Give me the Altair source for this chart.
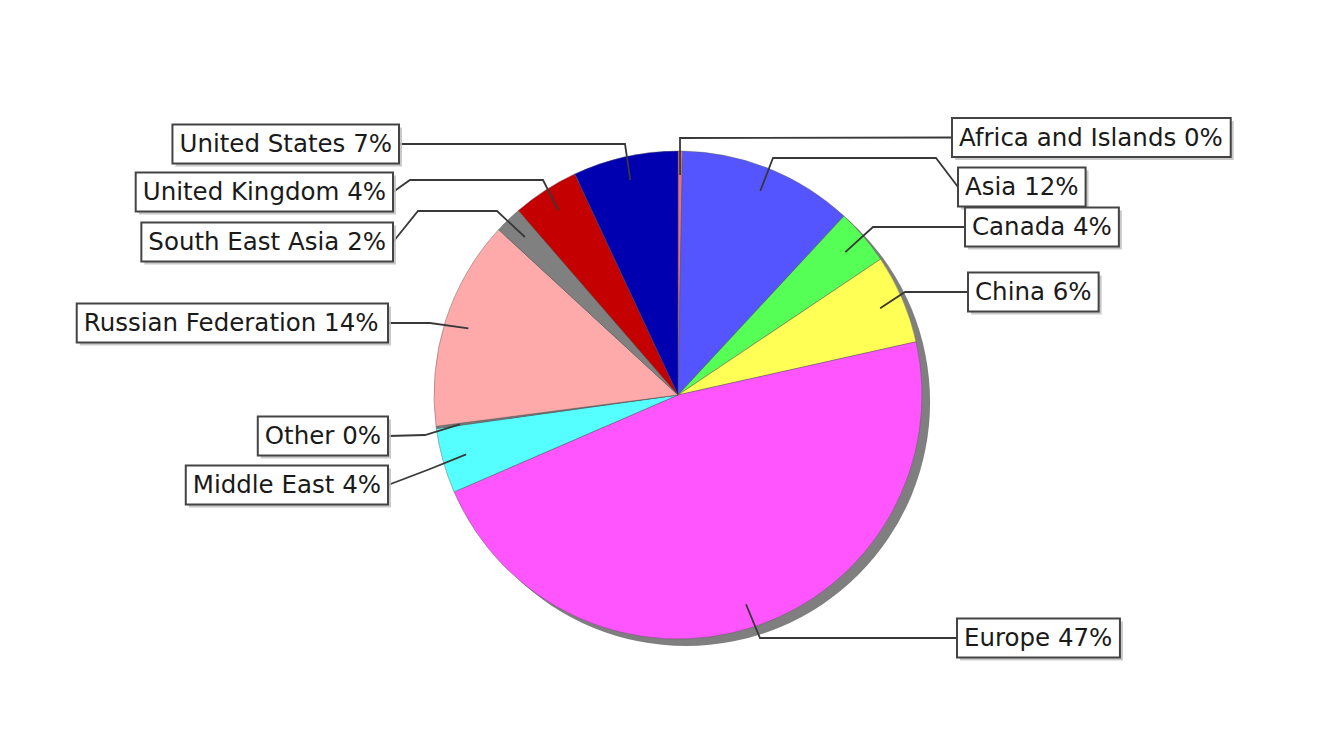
import math
import altair as alt
import pandas as pd

# ---------------- data ----------------
categories = ["Africa and Islands", "Asia", "Canada", "China", "Europe",
              "Middle East", "Other", "Russian Federation", "South East Asia",
              "United Kingdom", "United States"]
shares = [0.3, 11.6, 3.7, 5.9, 47.0, 4.3, 0.15, 13.9, 1.8, 4.4, 6.95]
colors = ["#e0708a", "#5555ff", "#55ff55", "#ffff55", "#ff55ff", "#55ffff",
          "#7a7a7a", "#ffaaaa", "#808080", "#c40000", "#0000b0"]
labels = [f"{c} {round(v)}%" for c, v in zip(categories, shares)]

# ---------------- layout (screen pixels) ----------------
CX, CY, R = 678, 395, 244
SHADOW_DX, SHADOW_DY = 8, 7
LEADER_R = 220
FONT = "DejaVu Sans"
FS = 24.5
PAD_X = 7
BOX_H = 39
# side, box edge x (left edge for right side, right edge for left side), centre y, leader elbows
label_layout = [
    ("right", 952, 137.5, [(680, 138)]),
    ("right", 958, 187, [(773, 158), (936, 158)]),
    ("right", 965, 227, [(873, 227)]),
    ("right", 968, 292, [(905, 292)]),
    ("right", 957, 638, [(760, 638)]),
    ("left", 388, 485, [(430, 469)]),
    ("left", 388, 436, [(425, 435)]),
    ("left", 388, 323, [(430, 323)]),
    ("left", 393, 242, [(497, 211), (418, 211)]),
    ("left", 393, 192, [(543, 180), (410, 180)]),
    ("left", 399, 144, [(625, 144)]),
]

# DejaVu Sans advance widths (units per em = 2048)
ADV = {"A": 1401, "C": 1430, "E": 1294, "F": 1178, "I": 604, "K": 1343, "M": 1767,
       "O": 1612, "R": 1423, "S": 1300, "U": 1499, "a": 1255, "c": 1126, "d": 1300,
       "e": 1260, "f": 721, "g": 1300, "h": 1298, "i": 569, "l": 569, "m": 1995,
       "n": 1298, "o": 1253, "p": 1300, "r": 842, "s": 1067, "t": 803, "u": 1298,
       "y": 1212, "%": 1946, " ": 651}


def text_width(s):
    return sum(ADV.get(ch, 1303 if ch.isdigit() else 1250) for ch in s) / 2048 * FS


# ---------------- tables ----------------
pie_df = pd.DataFrame({"category": categories, "share": shares,
                       "order": list(range(len(categories)))})

total = sum(shares)
line_rows, box_rows = [], []
cum = 0.0
for i, (cat, v, lab, lay) in enumerate(zip(categories, shares, labels, label_layout)):
    side, ex, cy, elbows = lay
    mid = (cum + v / 2) / total * 2 * math.pi
    cum += v
    sx = CX + LEADER_R * math.sin(mid)
    sy = CY - LEADER_R * math.cos(mid)
    pts = [(sx, sy)] + elbows + [(ex, cy)]
    for k, (px, py) in enumerate(pts):
        line_rows.append({"category": cat, "step": k, "px": px, "py": py})
    w = text_width(lab) + 2 * PAD_X
    if side == "right":
        x1, x2 = ex, ex + w
    else:
        x1, x2 = ex - w, ex
    box_rows.append({"label": lab, "px": x1, "px2": x2, "py": cy - BOX_H / 2,
                     "py2": cy + BOX_H / 2, "tx": x1 + PAD_X, "ty": cy + 1})

line_df = pd.DataFrame(line_rows)
box_df = pd.DataFrame(box_rows)
shadow_box_df = box_df.assign(px=box_df.px + 3, px2=box_df.px2 + 3,
                              py=box_df.py + 3, py2=box_df.py2 + 3)

W, H = 1312, 731
xs = alt.Scale(domain=[8, 8 + W], range=[0, W], nice=False, zero=False)
ys = alt.Scale(domain=[8, 8 + H], range=[0, H], nice=False, zero=False)

shadow = alt.Chart(pd.DataFrame({"a": [1]})).mark_arc(
    theta=0, theta2=2 * math.pi, radius=R, color="#7f7f7f"
).encode(x=alt.value(CX + SHADOW_DX - 8), y=alt.value(CY + SHADOW_DY - 8))

pie = alt.Chart(pie_df).mark_arc(
    radius=R, stroke="#555555", strokeWidth=0.8, strokeOpacity=0.55
).encode(
    theta=alt.Theta("share:Q", stack=True),
    order=alt.Order("order:Q", sort="ascending"),
    color=alt.Color("category:N", scale=alt.Scale(domain=categories, range=colors),
                    legend=None),
    x=alt.value(CX - 8), y=alt.value(CY - 8),
)

leaders = alt.Chart(line_df).mark_line(color="#383838", strokeWidth=1.8).encode(
    x=alt.X("px:Q", scale=xs, axis=None),
    y=alt.Y("py:Q", scale=ys, axis=None),
    detail="category:N",
    order="step:Q",
)

box_shadow = alt.Chart(shadow_box_df).mark_rect(color="#c0c0c0", opacity=0.85).encode(
    x=alt.X("px:Q", scale=xs, axis=None), x2="px2:Q",
    y=alt.Y("py:Q", scale=ys, axis=None), y2="py2:Q",
)

boxes = alt.Chart(box_df).mark_rect(fill="white", stroke="#444444", strokeWidth=2).encode(
    x=alt.X("px:Q", scale=xs, axis=None), x2="px2:Q",
    y=alt.Y("py:Q", scale=ys, axis=None), y2="py2:Q",
)

texts = alt.Chart(box_df).mark_text(
    align="left", baseline="middle", font=FONT, fontSize=FS, color="#1a1a1a"
).encode(
    x=alt.X("tx:Q", scale=xs, axis=None),
    y=alt.Y("ty:Q", scale=ys, axis=None),
    text="label:N",
)

chart = alt.layer(shadow, pie, leaders, box_shadow, boxes, texts).properties(
    width=W, height=H, autosize=alt.AutoSizeParams(type="none"), padding=0,
    background="white",
).configure_view(stroke=None)

chart.save("out.html", embed_options={"renderer": "svg", "actions": False})
